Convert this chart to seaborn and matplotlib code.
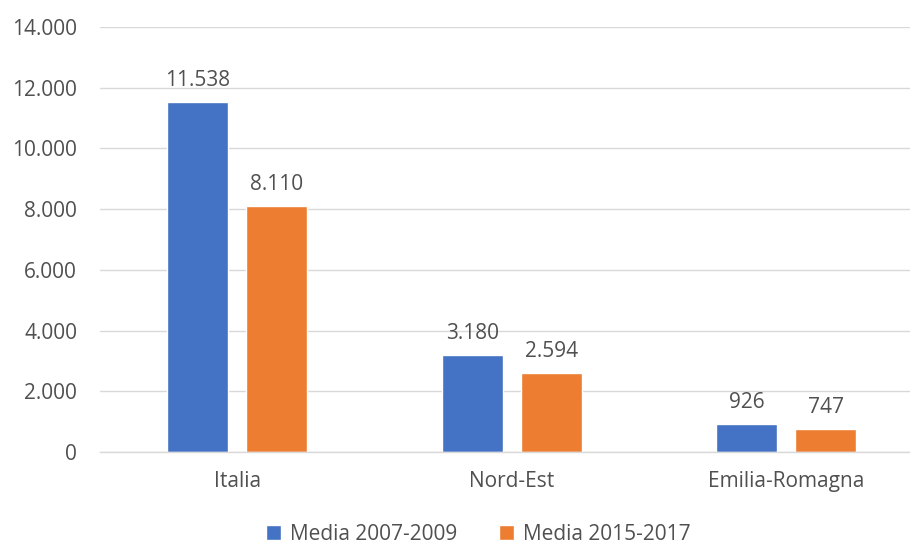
import matplotlib
matplotlib.use("Agg")
import matplotlib.pyplot as plt
import seaborn as sns
import pandas as pd
from matplotlib.ticker import FuncFormatter
from matplotlib.patches import Patch

categories = ["Italia", "Nord-Est", "Emilia-Romagna"]
series_names = ["Media 2007-2009", "Media 2015-2017"]
values_2007_2009 = [11538, 3180, 926]
values_2015_2017 = [8110, 2594, 747]
colors = ["#4472C4", "#ED7D31"]

rows = []
for c, v in zip(categories, values_2007_2009):
    rows.append({"cat": c, "serie": series_names[0], "val": v})
for c, v in zip(categories, values_2015_2017):
    rows.append({"cat": c, "serie": series_names[1], "val": v})
df = pd.DataFrame(rows)

sns.set_theme(style="white")
plt.rcParams["font.family"] = ["Open Sans", "DejaVu Sans"]
txt = "#505050"
fs = 15

fig = plt.figure(figsize=(9.1, 5.43), dpi=100)
ax = fig.add_axes([100 / 910, 91 / 543, 823.5 / 910, 425 / 543])

sns.barplot(data=df, x="cat", y="val", hue="serie", order=categories,
            hue_order=series_names, palette=colors, width=0.577, gap=0.226,
            saturation=1, ax=ax, legend=False, errorbar=None)

ax.set_xlim(-0.5, 2.5)
ax.set_ylim(0, 14000)
ax.set_yticks(range(0, 14001, 2000))
ax.yaxis.set_major_formatter(FuncFormatter(lambda v, p: f"{int(v):,}".replace(",", ".")))
ax.grid(axis="y", color="#D9D9D9", linewidth=1)
ax.set_axisbelow(True)
for s in ["top", "right", "left"]:
    ax.spines[s].set_visible(False)
ax.spines["bottom"].set_color("#D9D9D9")
ax.spines["bottom"].set_linewidth(1)
ax.tick_params(axis="both", length=0, labelsize=fs, labelcolor=txt)
ax.tick_params(axis="y", pad=16.5)
ax.tick_params(axis="x", pad=14)
ax.set_xlabel("")
ax.set_ylabel("")

for cont in ax.containers:
    for bar in cont:
        h = bar.get_height()
        ax.annotate(f"{int(h):,}".replace(",", "."),
                    (bar.get_x() + bar.get_width() / 2, h),
                    xytext=(0, 8), textcoords="offset points",
                    ha="center", va="bottom", fontsize=fs, color=txt)

handles = [Patch(facecolor=colors[0]), Patch(facecolor=colors[1])]
fig.legend(handles, series_names, loc="center", bbox_to_anchor=(478 / 910, 9 / 543),
           ncol=2, frameon=False, fontsize=fs, labelcolor=txt,
           handlelength=0.75, handleheight=0.75, handletextpad=0.4, columnspacing=2.0)

fig.savefig("out.png", dpi=100)
